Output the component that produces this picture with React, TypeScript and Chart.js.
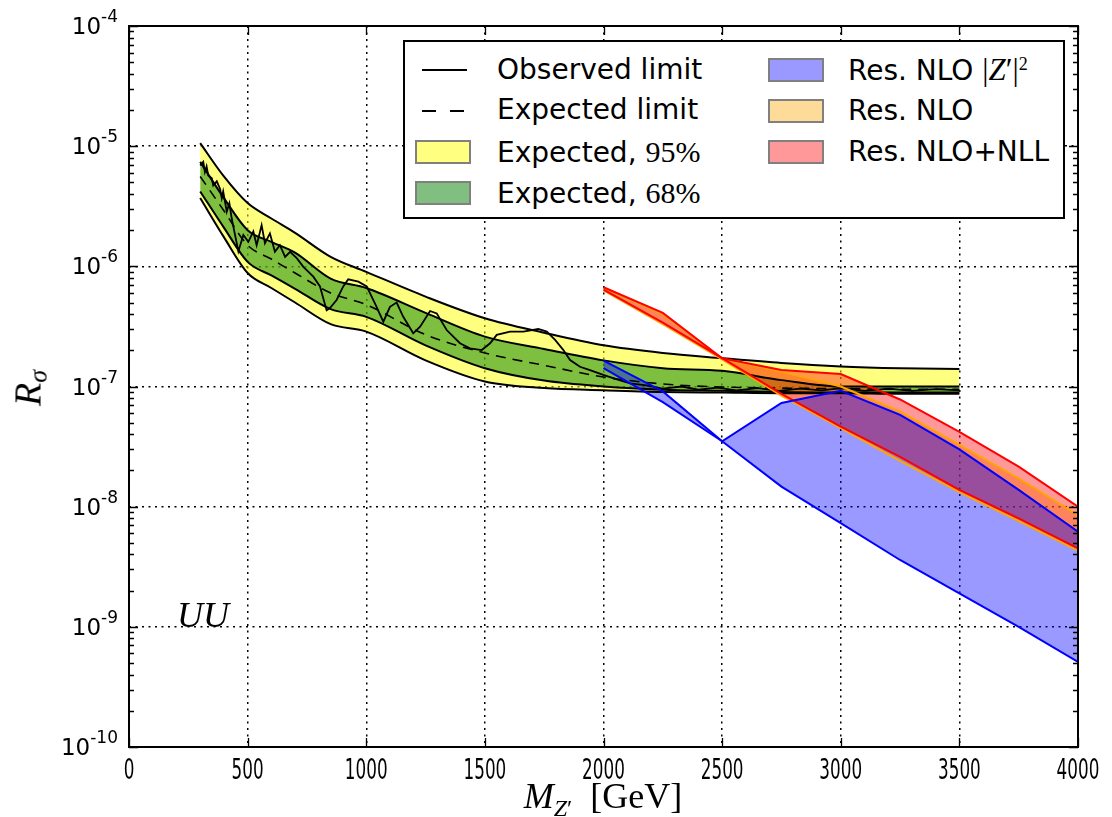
import React, { useEffect, useRef } from 'react';
import { Chart, registerables } from 'chart.js';

Chart.register(...registerables);

// ---------- data ----------
const bandMass = [300, 400, 500, 600, 700, 850, 1000, 1250, 1500, 1750, 2000, 2250, 2500, 2750, 3000, 3250, 3500];
const exp95Up = [1.06e-5, 5.6e-6, 3.36e-6, 2.5e-6, 1.9e-6, 1.2e-6, 9.0e-7, 5.6e-7, 3.7e-7, 2.8e-7, 2.2e-7, 1.9e-7, 1.72e-7, 1.57e-7, 1.47e-7, 1.42e-7, 1.4e-7];
const exp68Up = [7.4e-6, 3.7e-6, 2.0e-6, 1.6e-6, 1.3e-6, 7.9e-7, 6.6e-7, 4.1e-7, 2.6e-7, 2.05e-7, 1.65e-7, 1.42e-7, 1.35e-7, 1.13e-7, 1.0e-7, 1.0e-7, 1.0e-7];
const exp68Dn = [4.2e-6, 2.1e-6, 1.09e-6, 8.4e-7, 6.5e-7, 4.4e-7, 3.8e-7, 2.2e-7, 1.42e-7, 1.12e-7, 1.0e-7, 9.4e-8, 9.2e-8, 9.0e-8, 8.9e-8, 8.9e-8, 8.9e-8];
const exp95Dn = [3.7e-6, 1.75e-6, 8.8e-7, 6.6e-7, 5.0e-7, 3.3e-7, 2.86e-7, 1.65e-7, 1.1e-7, 9.7e-8, 9.3e-8, 9.0e-8, 8.9e-8, 8.8e-8, 8.8e-8, 8.7e-8, 8.7e-8];
const expectedLimit = [5.6e-6, 2.9e-6, 1.5e-6, 1.15e-6, 8.8e-7, 6.0e-7, 4.8e-7, 2.7e-7, 1.9e-7, 1.5e-7, 1.2e-7, 1.05e-7, 9.9e-8, 9.7e-8, 9.6e-8, 9.5e-8, 9.5e-8];

const obsMass = [300, 313, 320, 327, 334, 349, 355, 370, 384, 391, 397, 412, 423, 433, 461, 482, 503, 524, 538, 559, 573, 594, 615, 636, 658, 679, 707, 735, 777, 805, 833, 847, 875, 903, 924, 967, 1002, 1037, 1072, 1100, 1128, 1156, 1198, 1227, 1269, 1297, 1339, 1395, 1437, 1487, 1522, 1550, 1606, 1662, 1725, 1761, 1796, 1831, 1859, 1901, 1943, 1999, 2060, 2112, 2180, 2250, 2330, 2400, 2480, 2560, 2650, 2740, 2830, 2920, 3000, 3100, 3200, 3300, 3400, 3500];
const obsLimit = [6.9e-6, 7.4e-6, 6.1e-6, 6.8e-6, 5.7e-6, 5.4e-6, 4.7e-6, 5.1e-6, 4.4e-6, 3.7e-6, 4.2e-6, 2.85e-6, 3.35e-6, 2.5e-6, 1.33e-6, 1.82e-6, 1.6e-6, 1.95e-6, 1.5e-6, 2.2e-6, 1.56e-6, 1.88e-6, 1.32e-6, 1.5e-6, 1.2e-6, 1.32e-6, 1.17e-6, 9.9e-7, 8.2e-7, 6.8e-7, 4.3e-7, 4.5e-7, 5.25e-7, 6.8e-7, 7.8e-7, 7.45e-7, 6.8e-7, 4.9e-7, 3.46e-7, 4.6e-7, 5.0e-7, 3.8e-7, 2.77e-7, 3.15e-7, 4.25e-7, 4.06e-7, 2.95e-7, 2.29e-7, 2.08e-7, 2.01e-7, 2.29e-7, 2.69e-7, 2.86e-7, 2.86e-7, 3.01e-7, 2.86e-7, 2.44e-7, 2.01e-7, 1.66e-7, 1.46e-7, 1.37e-7, 1.25e-7, 1.14e-7, 1.06e-7, 1.02e-7, 9.6e-8, 1.0e-7, 9.4e-8, 9.8e-8, 9.3e-8, 9.7e-8, 9.2e-8, 9.6e-8, 9.3e-8, 9.7e-8, 9.2e-8, 9.6e-8, 9.2e-8, 9.5e-8, 9.3e-8];

const theoryMass = [2000, 2250, 2500, 2750, 3000, 3250, 3500, 3750, 4000];
const nloZ2Up = [1.64e-7, 9.1e-8, 3.5e-8, 7.3e-8, 9.2e-8, 5.8e-8, 3.0e-8, 1.38e-8, 6.2e-9];
const nloZ2Dn = [1.42e-7, 7.4e-8, 3.5e-8, 1.47e-8, 7.3e-9, 3.6e-9, 1.9e-9, 1.0e-9, 5.1e-10];
const nloUp = [6.6e-7, 4.0e-7, 1.7e-7, 1.33e-7, 1.0e-7, 6.2e-8, 3.26e-8, 1.72e-8, 8.5e-9];
const nloDn = [6.3e-7, 3.3e-7, 1.68e-7, 8.4e-8, 4.5e-8, 2.4e-8, 1.32e-8, 7.6e-9, 4.3e-9];
const nllUp = [6.7e-7, 4.1e-7, 1.72e-7, 1.37e-7, 1.27e-7, 7.8e-8, 4.2e-8, 2.15e-8, 1.0e-8];
const nllDn = [6.4e-7, 3.4e-7, 1.72e-7, 8.7e-8, 4.64e-8, 2.6e-8, 1.38e-8, 8.0e-9, 4.5e-9];

const xTickValues = [0, 500, 1000, 1500, 2000, 2500, 3000, 3500, 4000];
const yTickExponents = [-10, -9, -8, -7, -6, -5, -4];

// ---------- helpers ----------
const pts = (xs: number[], ys: number[]) => xs.map((x, i) => ({ x, y: ys[i] }));

const CA = { left: 129, top: 26, right: 1078, bottom: 747 };

const framePlugin = {
  id: 'frameTicks',
  afterDatasetsDraw(chart: any) {
    const { ctx, chartArea: a, scales } = chart;
    const xs = scales.x;
    const ys = scales.y;
    ctx.save();
    ctx.strokeStyle = '#000';
    ctx.lineWidth = 1.3;
    ctx.beginPath();
    xTickValues.forEach((v) => {
      const px = Math.round(xs.getPixelForValue(v)) + 0.5;
      ctx.moveTo(px, a.bottom); ctx.lineTo(px, a.bottom - 9);
      ctx.moveTo(px, a.top); ctx.lineTo(px, a.top + 9);
    });
    yTickExponents.forEach((e, idx) => {
      const py = Math.round(ys.getPixelForValue(Math.pow(10, e))) + 0.5;
      ctx.moveTo(a.left, py); ctx.lineTo(a.left + 9, py);
      ctx.moveTo(a.right, py); ctx.lineTo(a.right - 9, py);
      if (idx < yTickExponents.length - 1) {
        for (let k = 2; k <= 9; k++) {
          const pm = Math.round(ys.getPixelForValue(k * Math.pow(10, e))) + 0.5;
          ctx.moveTo(a.left, pm); ctx.lineTo(a.left + 5, pm);
          ctx.moveTo(a.right, pm); ctx.lineTo(a.right - 5, pm);
        }
      }
    });
    ctx.stroke();
    ctx.lineWidth = 2;
    ctx.strokeRect(a.left, a.top, a.right - a.left, a.bottom - a.top);
    ctx.restore();
  },
};

// tick labels placed through the scales (x: narrow digits, y: 10 with raised exponent)
const tickLabelPlugin = {
  id: 'tickLabels',
  afterDraw(chart: any) {
    const { ctx, chartArea: a, scales } = chart;
    ctx.save();
    ctx.fillStyle = '#000';
    ctx.textBaseline = 'alphabetic';
    ctx.font = "28px 'DejaVu Sans', sans-serif";
    ctx.textAlign = 'center';
    xTickValues.forEach((v) => {
      const px = scales.x.getPixelForValue(v);
      ctx.save();
      ctx.translate(px, a.bottom + 32);
      ctx.scale(0.6, 1);
      ctx.fillText(String(v), 0, 0);
      ctx.restore();
    });
    ctx.textAlign = 'left';
    const baseFont = "23px 'DejaVu Sans', sans-serif";
    const expFont = "17px 'DejaVu Sans', sans-serif";
    yTickExponents.forEach((e) => {
      const py = scales.y.getPixelForValue(Math.pow(10, e));
      const es = String(e);
      ctx.font = expFont;
      const ew = ctx.measureText(es).width;
      ctx.font = baseFont;
      const bw = ctx.measureText('10').width;
      const right = a.left - 11;
      ctx.fillText('10', right - ew - bw, py + 8);
      ctx.font = expFont;
      ctx.fillText(es, right - ew, py - 4);
    });
    ctx.restore();
  },
};

const serif = "'Liberation Serif', 'DejaVu Serif', serif";
const sans = "'DejaVu Sans', sans-serif";

export default function App() {
  const ref = useRef<HTMLCanvasElement>(null);

  useEffect(() => {
    const edge = (color: string, w = 2) => ({ borderColor: color, borderWidth: w, pointRadius: 0 });
    const chart = new Chart(ref.current as HTMLCanvasElement, {
      type: 'line',
      data: {
        datasets: [
          { label: 'Expected, 95% up', data: pts(bandMass, exp95Up), ...edge('#000'), fill: '+1', backgroundColor: 'rgba(255,255,0,0.5)', order: 100, cubicInterpolationMode: 'monotone' },
          { label: 'Expected, 95% down', data: pts(bandMass, exp95Dn), ...edge('#000'), fill: false, order: 99, cubicInterpolationMode: 'monotone' },
          { label: 'Expected, 68% up', data: pts(bandMass, exp68Up), ...edge('#000'), fill: '+1', backgroundColor: 'rgba(0,128,0,0.5)', order: 98, cubicInterpolationMode: 'monotone' },
          { label: 'Expected, 68% down', data: pts(bandMass, exp68Dn), ...edge('#000'), fill: false, order: 97, cubicInterpolationMode: 'monotone' },
          { label: 'Expected limit', data: pts(bandMass, expectedLimit), ...edge('#000', 1.6), borderDash: [10, 7], fill: false, order: 90, cubicInterpolationMode: 'monotone' },
          { label: 'Observed limit', data: pts(obsMass, obsLimit), ...edge('#000', 1.8), fill: false, order: 89 },
          { label: 'Res. NLO up', data: pts(theoryMass, nloUp), ...edge('orange'), fill: '+1', backgroundColor: 'rgba(255,165,0,0.4)', order: 80 },
          { label: 'Res. NLO down', data: pts(theoryMass, nloDn), ...edge('orange'), fill: false, order: 79 },
          { label: 'Res. NLO+NLL up', data: pts(theoryMass, nllUp), ...edge('red'), fill: '+1', backgroundColor: 'rgba(255,0,0,0.4)', order: 70 },
          { label: 'Res. NLO+NLL down', data: pts(theoryMass, nllDn), ...edge('red'), fill: false, order: 69 },
          { label: 'Res. NLO |Z|^2 up', data: pts(theoryMass, nloZ2Up), ...edge('blue'), fill: '+1', backgroundColor: 'rgba(0,0,255,0.4)', order: 60 },
          { label: 'Res. NLO |Z|^2 down', data: pts(theoryMass, nloZ2Dn), ...edge('blue'), fill: false, order: 59 },
        ] as any,
      },
      options: {
        responsive: false,
        animation: false,
        devicePixelRatio: 1,
        events: [],
        layout: { padding: { left: 0, top: CA.top, right: 1112 - CA.right, bottom: 0 } },
        plugins: { legend: { display: false }, tooltip: { enabled: false }, filler: { drawTime: 'beforeDatasetsDraw' } },
        elements: { line: { tension: 0 }, point: { radius: 0 } },
        scales: {
          x: {
            type: 'linear',
            min: 0,
            max: 4000,
            afterFit: (s: any) => { s.height = 817 - CA.bottom; },
            afterBuildTicks: (s: any) => { s.ticks = xTickValues.map((v) => ({ value: v })); },
            ticks: { display: false, autoSkip: false, maxRotation: 0 },
            grid: { color: '#000', lineWidth: 1.5, drawTicks: false },
            border: { display: false, dash: [2, 4.5] },
          },
          y: {
            type: 'logarithmic',
            min: 1e-10,
            max: 1e-4,
            afterFit: (s: any) => { s.width = CA.left; },
            afterBuildTicks: (s: any) => { s.ticks = yTickExponents.map((e) => ({ value: Math.pow(10, e) })); },
            ticks: { display: false, autoSkip: false },
            grid: { color: '#000', lineWidth: 1.5, drawTicks: false },
            border: { display: false, dash: [2, 4.5] },
          },
        },
      } as any,
      plugins: [framePlugin, tickLabelPlugin],
    });
    return () => chart.destroy();
  }, []);

  const legText: React.CSSProperties = { position: 'absolute', fontFamily: sans, fontSize: 28, lineHeight: '34px', whiteSpace: 'nowrap', color: '#000' };
  const patch = (left: number, cy: number, bg: string): React.CSSProperties => ({ position: 'absolute', left, top: cy - 12, width: 56, height: 24, background: bg, border: '2px solid #808080', boxSizing: 'border-box' });

  return (
    <div style={{ position: 'absolute', left: 0, top: 0, width: 1112, height: 817, background: '#fff', overflow: 'hidden' }}>
      <canvas ref={ref} width={1112} height={817} style={{ display: 'block', width: 1112, height: 817 }} />

      {/* legend */}
      <div style={{ position: 'absolute', left: 403, top: 40, width: 662, height: 179, border: '2px solid #000', background: '#fff', boxSizing: 'border-box' }} />
      <div style={{ position: 'absolute', left: 422, top: 69, width: 45, height: 2, background: '#000' }} />
      <div style={{ ...legText, left: 497, top: 53 }}>Observed limit</div>
      <div style={{ position: 'absolute', left: 422, top: 110, width: 14, height: 2, background: '#000' }} />
      <div style={{ position: 'absolute', left: 450, top: 110, width: 14, height: 2, background: '#000' }} />
      <div style={{ ...legText, left: 497, top: 93 }}>Expected limit</div>
      <div style={patch(415, 152, 'rgb(255,255,128)')} />
      <div style={{ ...legText, left: 497, top: 135 }}>Expected, <span style={{ fontFamily: serif, fontSize: 30 }}>95%</span></div>
      <div style={patch(415, 193, 'rgb(128,191,128)')} />
      <div style={{ ...legText, left: 497, top: 176 }}>Expected, <span style={{ fontFamily: serif, fontSize: 30 }}>68%</span></div>

      <div style={patch(768, 70, 'rgb(153,153,255)')} />
      <div style={{ ...legText, left: 848, top: 53 }}>
        Res. NLO <span style={{ fontFamily: serif, fontSize: 31 }}>|<i>Z</i>′|<sup style={{ fontSize: 18, verticalAlign: 'top', position: 'relative', top: -6 }}>2</sup></span>
      </div>
      <div style={patch(768, 111, 'rgb(255,219,153)')} />
      <div style={{ ...legText, left: 848, top: 94 }}>Res. NLO</div>
      <div style={patch(768, 152, 'rgb(255,153,153)')} />
      <div style={{ ...legText, left: 848, top: 135 }}>Res. NLO+NLL</div>

      {/* UU label */}
      <div style={{ position: 'absolute', left: 177, top: 594, fontFamily: serif, fontStyle: 'italic', fontSize: 36, whiteSpace: 'nowrap' }}>UU</div>

      {/* x axis title */}
      <div style={{ position: 'absolute', left: 603, top: 776, transform: 'translateX(-50%)', fontFamily: serif, fontSize: 36, whiteSpace: 'nowrap', lineHeight: '40px' }}>
        <i>M</i><sub style={{ fontSize: 24, position: 'relative', top: 8, verticalAlign: 'baseline' }}><i>Z</i>′</sub>&nbsp;&nbsp;[GeV]
      </div>

      {/* y axis title */}
      <div style={{ position: 'absolute', left: 30, top: 388, transform: 'translate(-50%, -50%) rotate(-90deg)', fontFamily: serif, fontSize: 38, whiteSpace: 'nowrap', lineHeight: '44px' }}>
        <i>R</i><sub style={{ fontSize: 26, position: 'relative', top: 6, verticalAlign: 'baseline' }}><i>σ</i></sub>
      </div>
    </div>
  );
}
